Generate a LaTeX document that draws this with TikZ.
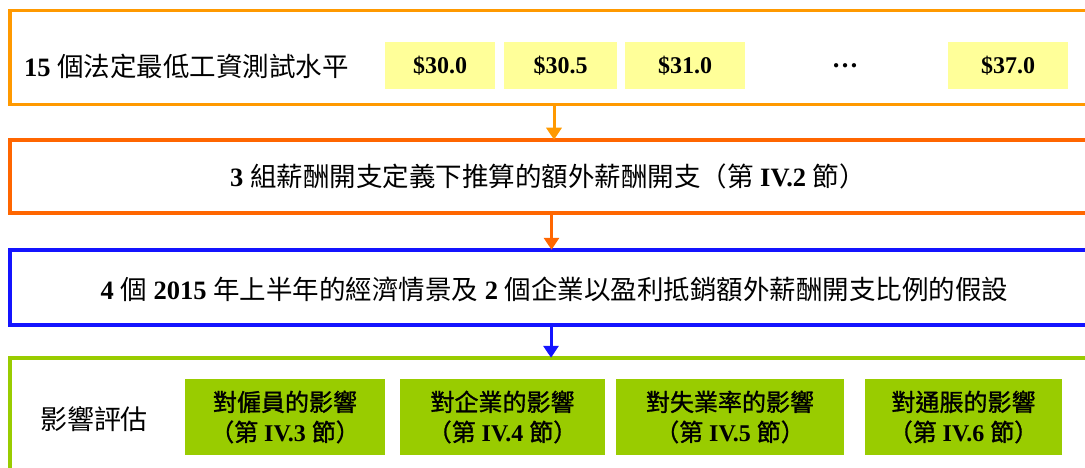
\documentclass[tikz,border=0pt]{standalone}
\usepackage{fontspec}
\setmainfont{Liberation Serif}
\newfontfamily\cjk{Noto Sans CJK TC}
\newfontfamily\cjkm[FakeBold=1.2]{Noto Sans CJK TC}
\usetikzlibrary{arrows.meta}
\definecolor{cOrange}{RGB}{255,153,0}
\definecolor{cOrRed}{RGB}{255,102,0}
\definecolor{cBlue}{RGB}{20,20,255}
\definecolor{cGreen}{RGB}{153,204,0}
\definecolor{cYellow}{RGB}{255,255,153}
\newcommand\zh[1]{{\cjk\mdseries #1}}
\newcommand\zhb[1]{{\cjkm\mdseries #1}}
\tikzset{
  frame/.style={draw, line width=3.5pt, minimum width=1090pt, inner sep=0pt},
  valbox/.style={fill=cYellow, minimum height=47pt, inner sep=0pt, font=\fontsize{24}{28}\selectfont\bfseries},
  effbox/.style={fill=cGreen, minimum height=76pt, inner sep=0pt, align=center, font=\fontsize{24}{30}\selectfont\bfseries},
  flow/.style={line width=3pt, -{Triangle[width=15pt,length=12pt]}},
  big/.style={font=\fontsize{26.5}{30}\selectfont\bfseries, inner sep=0pt}
}
\begin{document}
\begin{tikzpicture}[x=1pt,y=-1pt]
\useasboundingbox (0,0) rectangle (1085,468);
\clip (0,0) rectangle (1085,468);
% frames
\node[frame, draw=cOrange, minimum height=94pt] (b1) at (555,57.5) {};
\node[frame, draw=cOrRed, minimum height=73pt] (b2) at (555,176.5) {};
\node[frame, draw=cBlue, minimum height=75pt] (b3) at (555,287.5) {};
\node[frame, draw=cGreen, minimum height=130pt] (b4) at (555,423) {};
% box 1 contents
\node[big, anchor=west] (t1) at (24,66) {15 \zh{個法定最低工資測試水平}};
\node[valbox, minimum width=110pt] (v1) at (440,65.5) {\$30.0\hspace{16pt}};
\node[valbox, minimum width=113pt] (v2) at (560.5,65.5) {\$30.5\hspace{16pt}};
\node[valbox, minimum width=120pt] (v3) at (685,65.5) {\$31.0\hspace{16pt}};
\node[big] (vd) at (845,65.5) {\ldots};
\node[valbox, minimum width=120pt] (v4) at (1008,65.5) {\$37.0\hspace{16pt}};
% box 2
\node[big] (t2) at (548,176) {3 \zh{組薪酬開支定義下推算的額外薪酬開支（第} IV.2 \zh{節）}};
% box 3
\node[big] (t3) at (554.5,289) {4 \zh{個} 2015 \zh{年上半年的經濟情景及} 2 \zh{個企業以盈利抵銷額外薪酬開支比例的假設}};
% box 4
\node[font=\fontsize{27}{30}\selectfont, inner sep=0pt] (t4) at (94,419) {\zh{影響評估}};
\node[effbox, minimum width=200pt] (e1) at (285,417) {\zhb{對僱員的影響}\\\zhb{（第} IV.3 \zhb{節）}};
\node[effbox, minimum width=205pt] (e2) at (502.5,417) {\zhb{對企業的影響}\\\zhb{（第} IV.4 \zhb{節）}};
\node[effbox, minimum width=228pt] (e3) at (730,417) {\zhb{對失業率的影響}\\\zhb{（第} IV.5 \zhb{節）}};
\node[effbox, minimum width=197pt] (e4) at (963.5,417) {\zhb{對通脹的影響}\\\zhb{（第} IV.6 \zhb{節）}};
% arrows
\coordinate (x1) at (554,0);
\coordinate (x2) at (551.5,0);
\coordinate (x3) at (551,0);
\draw[flow, draw=cOrange, fill=cOrange] (b1.south -| x1) -- ([yshift=-1.5pt]b2.north -| x1);
\draw[flow, draw=cOrRed, fill=cOrRed] (b2.south -| x2) -- ([yshift=-1.5pt]b3.north -| x2);
\draw[flow, draw=cBlue, fill=cBlue] (b3.south -| x3) -- ([yshift=-1.5pt]b4.north -| x3);
\end{tikzpicture}
\end{document}
